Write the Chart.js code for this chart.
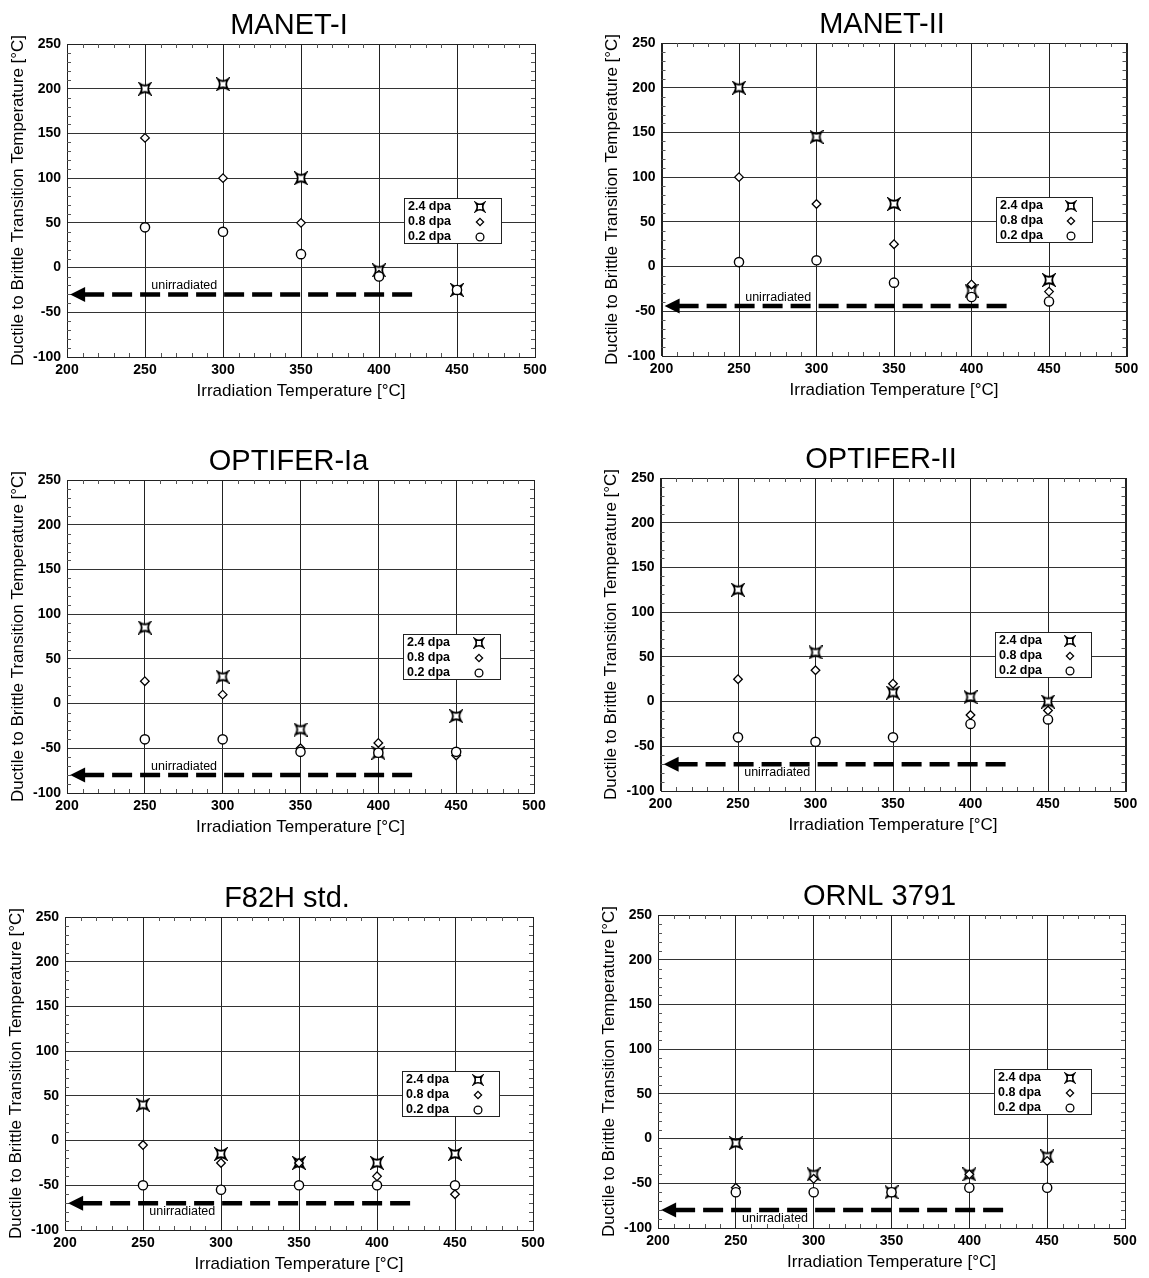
<!DOCTYPE html>
<html><head><meta charset="utf-8">
<script src="https://cdn.jsdelivr.net/npm/chart.js@4.4.1/dist/chart.umd.min.js"></script>
<style>
html,body{margin:0;padding:0;background:#fff;}
body{width:1149px;height:1278px;position:relative;overflow:hidden;}
canvas{position:absolute;}
</style></head><body>
<script>
// ---------------- DATA ----------------
const temps = [250, 300, 350, 400, 450];
const xTickValues = [200, 250, 300, 350, 400, 450, 500];
const yTickValues = [-100, -50, 0, 50, 100, 150, 200, 250];
const seriesLabels = ['2.4 dpa', '0.8 dpa', '0.2 dpa'];
const steelNames = ['MANET-I', 'MANET-II', 'OPTIFER-Ia', 'OPTIFER-II', 'F82H std.', 'ORNL 3791'];

const manet1_dpa24 = [200, 205, 100, -3, -25];
const manet1_dpa08 = [145, 100, 50, -8, -25];
const manet1_dpa02 = [45, 40, 15, -10, -25];

const manet2_dpa24 = [200, 145, 70, -27, -15];
const manet2_dpa08 = [100, 70, 25, -20, -28];
const manet2_dpa02 = [5, 7, -18, -34, -39];

const optiferIa_dpa24 = [85, 30, -29, -55, -14];
const optiferIa_dpa08 = [25, 10, -50, -44, -58];
const optiferIa_dpa02 = [-40, -40, -54, -55, -54];

const optiferII_dpa24 = [125, 55, 10, 5, 0];
const optiferII_dpa08 = [25, 35, 20, -15, -10];
const optiferII_dpa02 = [-40, -45, -40, -25, -20];

const f82h_dpa24 = [40, -15, -25, -25, -15];
const f82h_dpa08 = [-5, -25, -25, -40, -60];
const f82h_dpa02 = [-50, -55, -50, -50, -50];

const ornl_dpa24 = [-5, -40, -60, -40, -20];
const ornl_dpa08 = [-55, -45, -60, -40, -25];
const ornl_dpa02 = [-60, -60, -60, -55, -55];

const unirradiatedDBTT = [-30, -44, -80, -70, -70, -80];

const seriesByPanel = [
  [manet1_dpa24, manet1_dpa08, manet1_dpa02],
  [manet2_dpa24, manet2_dpa08, manet2_dpa02],
  [optiferIa_dpa24, optiferIa_dpa08, optiferIa_dpa02],
  [optiferII_dpa24, optiferII_dpa08, optiferII_dpa02],
  [f82h_dpa24, f82h_dpa08, f82h_dpa02],
  [ornl_dpa24, ornl_dpa08, ornl_dpa02]
];

// ---------------- LAYOUT ----------------
const panels = [
  {cell: [0, 0, 575, 420],    area: [67, 44, 535, 357],    labelSide: -1},
  {cell: [575, 0, 574, 420],  area: [661.5, 43, 1126.5, 356], labelSide: -1},
  {cell: [0, 420, 575, 430],  area: [67, 480, 534, 793],   labelSide: -1},
  {cell: [575, 420, 574, 430],area: [660.5, 478, 1125.5, 791], labelSide: 1},
  {cell: [0, 850, 575, 428],  area: [65, 917, 533, 1230],  labelSide: 1},
  {cell: [575, 850, 574, 428],area: [658, 915, 1125, 1228], labelSide: 1}
];
const Y_AXIS_W = 59, X_AXIS_H = 45;
const FONT = '"Liberation Sans", Arial, Helvetica, sans-serif';

function makeStar(size, r, lw) {
  const c = document.createElement('canvas');
  c.width = c.height = size;
  const g = c.getContext('2d');
  const m = size / 2;
  g.beginPath();
  g.moveTo(m - r, m - r);
  g.quadraticCurveTo(m, m - r * 0.3, m + r, m - r);
  g.quadraticCurveTo(m + r * 0.3, m, m + r, m + r);
  g.quadraticCurveTo(m, m + r * 0.3, m - r, m + r);
  g.quadraticCurveTo(m - r * 0.3, m, m - r, m - r);
  g.closePath();
  g.fillStyle = '#fff'; g.fill();
  g.lineWidth = lw; g.strokeStyle = '#000'; g.lineJoin = 'miter'; g.stroke();
  return c;
}
const starImg = makeStar(14, 5.0, 1.8);
const starLegend = makeStar(12, 4.2, 1.6);

const decor = {
  id: 'decor',
  beforeDatasetsDraw(chart, args, opts) {
    const {ctx, chartArea: a, scales: {x, y}} = chart;
    ctx.save();
    ctx.strokeStyle = '#222'; ctx.lineWidth = 1;
    ctx.strokeRect(Math.round(a.left) + 0.5, Math.round(a.top) + 0.5,
                   Math.round(a.right - a.left), Math.round(a.bottom - a.top));
    ctx.strokeStyle = '#555';
    ctx.beginPath();
    const x0 = xTickValues[0], x1 = xTickValues[xTickValues.length - 1];
    for (let v = x0; v <= x1; v += 10) {
      if (v % 50 === 0) continue;
      const px = Math.round(x.getPixelForValue(v)) + 0.5;
      ctx.moveTo(px, a.bottom); ctx.lineTo(px, a.bottom - 4);
      ctx.moveTo(px, a.top); ctx.lineTo(px, a.top + 4);
    }
    const y0 = yTickValues[0], y1 = yTickValues[yTickValues.length - 1];
    for (let v = y0; v <= y1; v += 10) {
      if (v % 50 === 0) continue;
      const py = Math.round(y.getPixelForValue(v)) + 0.5;
      ctx.moveTo(a.left, py); ctx.lineTo(a.left + 4, py);
      ctx.moveTo(a.right, py); ctx.lineTo(a.right - 4, py);
    }
    ctx.stroke();
    const py = y.getPixelForValue(opts.unirradiated);
    const tip = x.getPixelForValue(202);
    const base = tip + 15;
    const end = x.getPixelForValue(424);
    ctx.fillStyle = '#000';
    ctx.beginPath();
    ctx.moveTo(tip, py); ctx.lineTo(base, py - 7.5); ctx.lineTo(base, py + 7.5);
    ctx.closePath(); ctx.fill();
    ctx.strokeStyle = '#000'; ctx.lineWidth = 4.5; ctx.lineCap = 'butt';
    ctx.setLineDash([20, 8]);
    ctx.beginPath(); ctx.moveTo(base - 1, py); ctx.lineTo(end, py); ctx.stroke();
    ctx.setLineDash([]);
    ctx.font = '12.5px ' + FONT;
    ctx.textAlign = 'left'; ctx.textBaseline = 'middle';
    ctx.fillText('unirradiated', x.getPixelForValue(254), py + opts.labelSide * 8.5);
    ctx.restore();
  },
  afterDatasetsDraw(chart, args, opts) {
    const {ctx, scales: {x, y}} = chart;
    ctx.save();
    const bx0 = Math.round(x.getPixelForValue(416)) + 0.5, bx1 = Math.round(x.getPixelForValue(478)) + 0.5;
    const by0 = Math.round(y.getPixelForValue(78)) + 0.5, by1 = Math.round(y.getPixelForValue(27)) + 0.5;
    ctx.fillStyle = '#fff';
    ctx.fillRect(bx0, by0, bx1 - bx0, by1 - by0);
    ctx.strokeStyle = '#222'; ctx.lineWidth = 1;
    ctx.strokeRect(bx0, by0, bx1 - bx0, by1 - by0);
    const rows = [8.5, 23.5, 38.5];
    const mx = Math.round(bx0 + 0.78 * (bx1 - bx0));
    ctx.font = 'bold 12.5px ' + FONT;
    ctx.textAlign = 'left'; ctx.textBaseline = 'middle';
    chart.data.datasets.forEach((ds, i) => {
      const ry = Math.round(by0 + rows[i]);
      ctx.fillStyle = '#000';
      ctx.fillText(ds.label, bx0 + 3.5, ry);
      ctx.lineWidth = 1.3; ctx.strokeStyle = '#000'; ctx.fillStyle = '#fff';
      if (i === 0) {
        ctx.drawImage(starLegend, mx - starLegend.width / 2, ry - starLegend.height / 2);
      } else if (i === 1) {
        const r = 3.6;
        ctx.beginPath(); ctx.moveTo(mx, ry - r); ctx.lineTo(mx + r, ry); ctx.lineTo(mx, ry + r); ctx.lineTo(mx - r, ry); ctx.closePath();
        ctx.fill(); ctx.stroke();
      } else {
        ctx.beginPath(); ctx.arc(mx, ry, 3.9, 0, Math.PI * 2); ctx.fill(); ctx.stroke();
      }
    });
    ctx.restore();
  },
  afterDraw(chart, args, opts) {
    const {ctx, chartArea: a} = chart;
    ctx.save();
    ctx.font = '29px ' + FONT;
    ctx.fillStyle = '#000'; ctx.textAlign = 'center'; ctx.textBaseline = 'alphabetic';
    ctx.fillText(opts.name, (a.left + a.right) / 2 - 12, a.top - 10);
    ctx.restore();
  }
};

panels.forEach((p, idx) => {
  const [cx, cy, cw, ch] = p.cell;
  const [L, T, R, B] = p.area;
  const cv = document.createElement('canvas');
  cv.width = cw; cv.height = ch;
  cv.style.left = cx + 'px'; cv.style.top = cy + 'px';
  cv.style.width = cw + 'px'; cv.style.height = ch + 'px';
  document.body.appendChild(cv);

  const [s24, s08, s02] = seriesByPanel[idx];
  const pts = arr => temps.map((t, i) => ({x: t, y: arr[i]}));
  const common = {pointBackgroundColor: '#fff', pointBorderColor: '#000', pointHoverBackgroundColor: '#fff', pointHoverBorderColor: '#000', showLine: false};

  new Chart(cv, {
    type: 'scatter',
    data: {
      datasets: [
        Object.assign({label: seriesLabels[0], data: pts(s24), pointStyle: starImg, pointRadius: 6, pointHoverRadius: 6, order: 3}, common),
        Object.assign({label: seriesLabels[1], data: pts(s08), pointStyle: 'rectRot', pointRadius: 4.3, pointHoverRadius: 4.3, pointBorderWidth: 1.3, pointHoverBorderWidth: 1.3, order: 2}, common),
        Object.assign({label: seriesLabels[2], data: pts(s02), pointStyle: 'circle', pointRadius: 4.6, pointHoverRadius: 4.6, pointBorderWidth: 1.4, pointHoverBorderWidth: 1.4, order: 1}, common)
      ]
    },
    options: {
      responsive: false,
      animation: false,
      events: [],
      layout: {padding: {left: L - Y_AXIS_W - cx, top: T - cy, right: cx + cw - R, bottom: cy + ch - B - X_AXIS_H}},
      plugins: {
        legend: {display: false},
        tooltip: {enabled: false},
        decor: {name: steelNames[idx], unirradiated: unirradiatedDBTT[idx], labelSide: p.labelSide}
      },
      scales: {
        x: {
          type: 'linear', min: xTickValues[0], max: xTickValues[xTickValues.length - 1],
          afterBuildTicks: s => { s.ticks = xTickValues.map(v => ({value: v})); },
          afterFit: s => { s.height = X_AXIS_H; },
          ticks: {color: '#000', font: {family: FONT, size: 14, weight: 'bold'}, padding: 5, maxRotation: 0, autoSkip: false},
          grid: {color: '#222', lineWidth: 1, drawTicks: false},
          border: {display: false},
          title: {display: true, text: 'Irradiation Temperature [°C]', color: '#000', font: {family: FONT, size: 17}, padding: 0}
        },
        y: {
          type: 'linear', min: yTickValues[0], max: yTickValues[yTickValues.length - 1],
          afterBuildTicks: s => { s.ticks = yTickValues.map(v => ({value: v})); },
          afterFit: s => { s.width = Y_AXIS_W; },
          ticks: {color: '#000', font: {family: FONT, size: 14, weight: 'bold'}, padding: 6, autoSkip: false},
          grid: {color: '#333', lineWidth: 1, drawTicks: false},
          border: {display: false},
          title: {display: true, text: 'Ductile to Brittle Transition Temperature [°C]', color: '#000', font: {family: FONT, size: 17}, padding: 0}
        }
      }
    },
    plugins: [decor]
  });
});
</script>
</body></html>
